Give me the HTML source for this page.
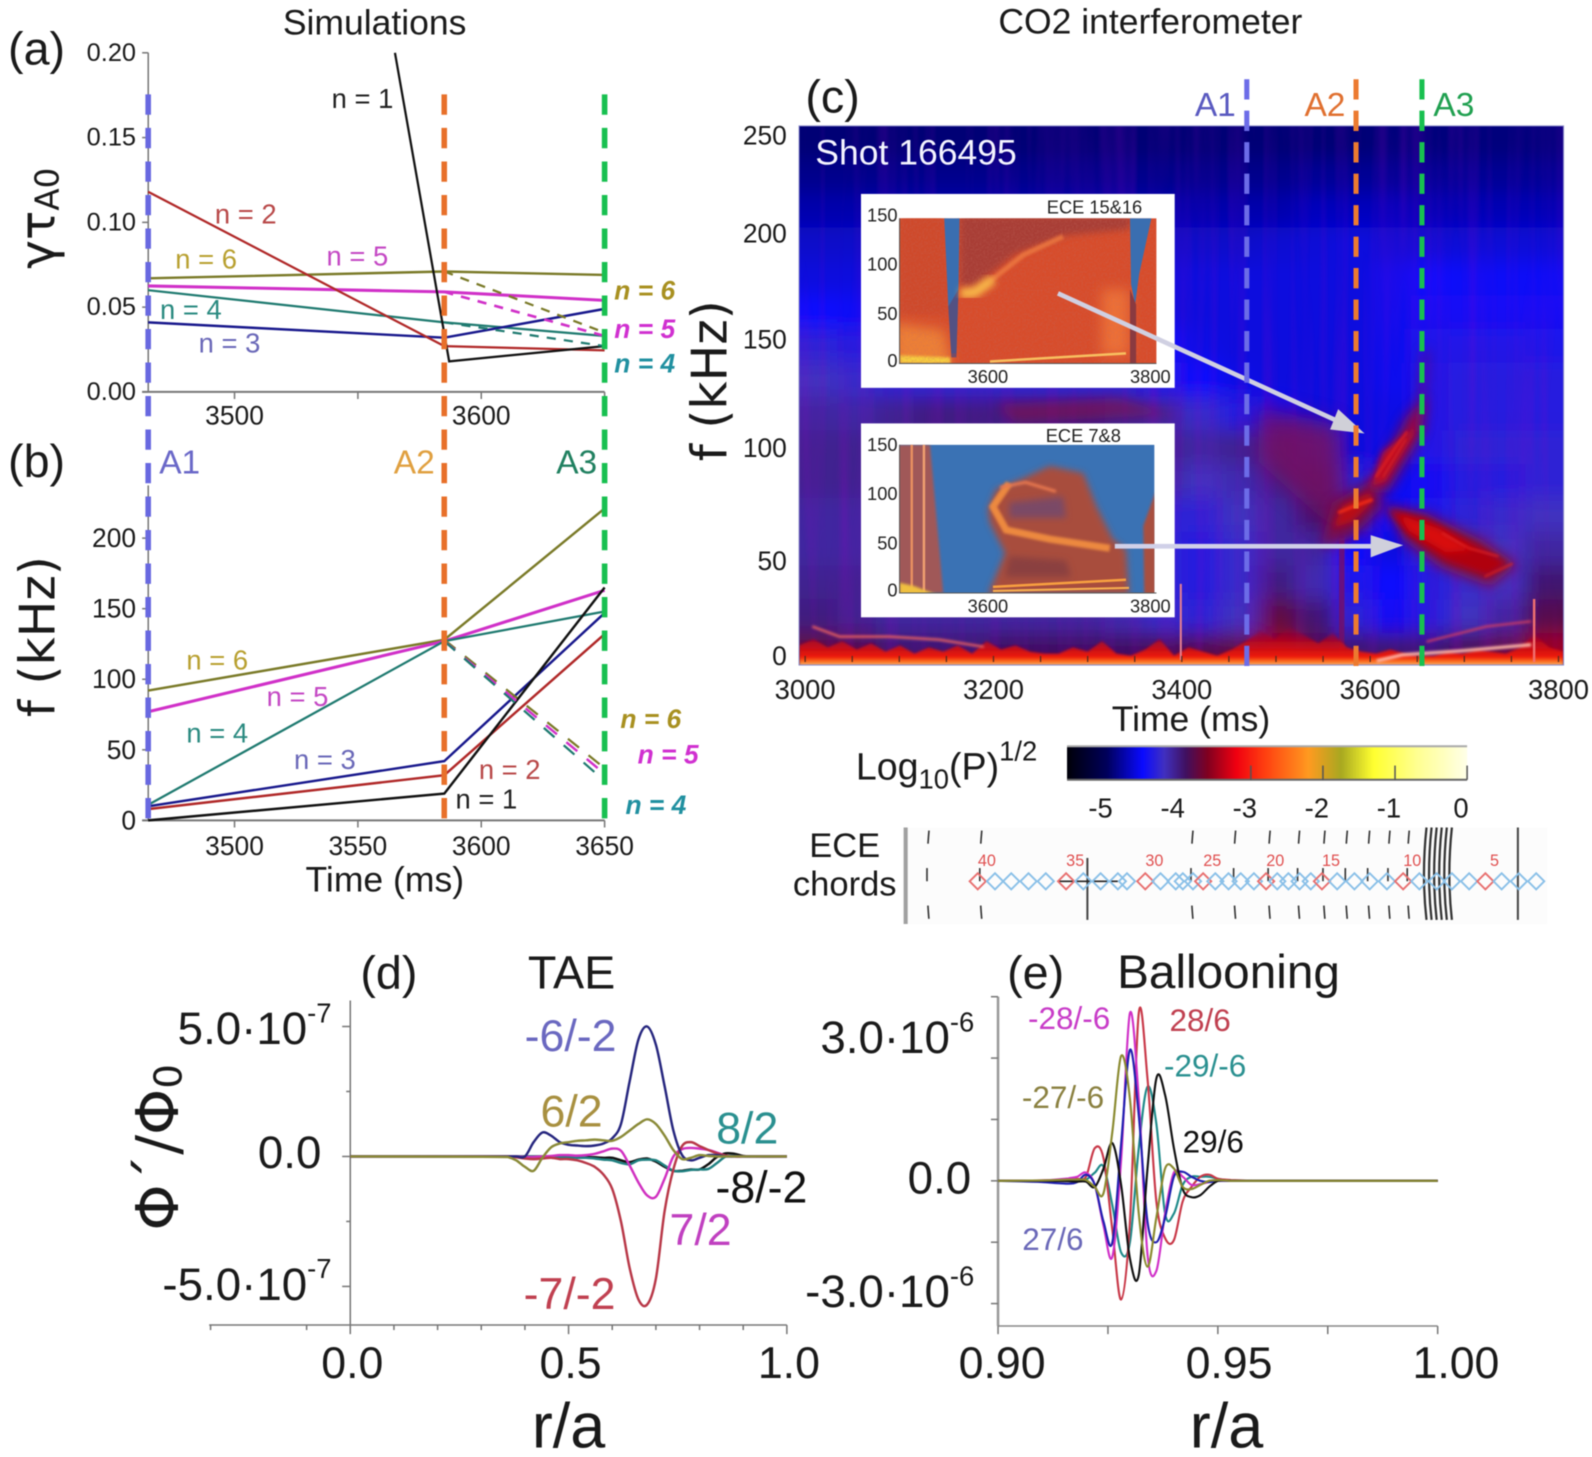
<!DOCTYPE html>
<html lang="en">
<head>
<meta charset="utf-8">
<title>Simulations and CO2 interferometer figure</title>
<style>
html,body{margin:0;padding:0;background:#fff;width:1592px;height:1457px;overflow:hidden}
svg{display:block;filter:blur(.55px)}
text{font-family:"Liberation Sans",sans-serif;dominant-baseline:central;fill:#1a1a1a}
.dj{font-family:"DejaVu Sans","Liberation Sans",sans-serif}
.m{text-anchor:middle}
.e{text-anchor:end}
.bi{font-weight:bold;font-style:italic;font-size:26px;text-anchor:middle}
.nl{font-size:27px;text-anchor:middle}
.pl{font-size:46px;text-anchor:middle}
.cl{font-size:44px;text-anchor:middle}
.el{font-size:31px;text-anchor:middle}
.il{font-size:18px;fill:#222}
</style>
</head>
<body>
<svg id="figure" xmlns="http://www.w3.org/2000/svg" width="1592" height="1457" viewBox="0 0 1568 1435" preserveAspectRatio="none">
<defs>
<filter id="blurMap" x="-10%" y="-10%" width="120%" height="120%"><feGaussianBlur stdDeviation="10"/></filter>
<filter id="blur10" x="-50%" y="-50%" width="200%" height="200%"><feGaussianBlur stdDeviation="11"/></filter>
<filter id="blur6" x="-50%" y="-50%" width="200%" height="200%"><feGaussianBlur stdDeviation="6"/></filter>
<filter id="blur3" x="-30%" y="-30%" width="160%" height="160%"><feGaussianBlur stdDeviation="3.4"/></filter>
<filter id="blur1" x="-30%" y="-30%" width="160%" height="160%"><feGaussianBlur stdDeviation="1.2"/></filter>
<filter id="streakTex" x="0" y="0" width="100%" height="100%"><feTurbulence type="fractalNoise" baseFrequency="0.07 0.003" numOctaves="2" seed="4"/><feColorMatrix type="matrix" values="0 0 0 0 .32  0 0 0 0 0  0 0 0 0 .55  2.4 0 0 0 -1"/></filter>
<filter id="noiseTex" x="0" y="0" width="100%" height="100%"><feTurbulence type="fractalNoise" baseFrequency="0.55" numOctaves="2" seed="9"/><feColorMatrix type="matrix" values="0 0 0 0 .55  0 0 0 0 .15  0 0 0 0 .12  2.6 0 0 0 -1"/></filter>
<clipPath id="clipMap"><rect x="787" y="124" width="753" height="531"/></clipPath>
<clipPath id="clipI1"><rect x="886" y="215" width="253" height="143"/></clipPath>
<clipPath id="clipI2"><rect x="886" y="438" width="251" height="146"/></clipPath>
<linearGradient id="cbarGrad" x1="0" x2="1" y1="0" y2="0"></linearGradient>
<linearGradient id="floorGrad" x1="0" x2="0" y1="0" y2="1"><stop offset="0" stop-color="#900830" stop-opacity=".1"/><stop offset=".4" stop-color="#c00818" stop-opacity=".85"/><stop offset=".75" stop-color="#ee1a0c"/><stop offset=".88" stop-color="#ff7a20"/><stop offset=".95" stop-color="#e8a868"/><stop offset="1" stop-color="#e4d0b8"/></linearGradient>
</defs>

<text class="m" x="369" y="22" font-size="35">Simulations</text>
<text class="m" x="1133" y="21" font-size="35">CO2 interferometer</text>
<text class="pl" x="36" y="48">(a)</text>
<text class="pl" x="36" y="454">(b)</text>
<text class="pl" x="820" y="95">(c)</text>
<text class="pl" x="383" y="958">(d)</text>
<text class="pl" x="1020" y="958">(e)</text>

<g id="panelA"></g>
<g id="panelB"></g>

<text class="dj m" transform="translate(38,215) rotate(-90)" font-size="48">γτ<tspan font-size="32" dy="9">A0</tspan></text>
<text class="dj m" transform="translate(38,627) rotate(-90)" font-size="48">f (kHz)</text>
<text class="m" x="379" y="866" font-size="35">Time (ms)</text>

<text class="nl" x="357" y="97" style="fill:#222">n = 1</text>
<text class="nl" x="242" y="211" style="fill:#b84848">n = 2</text>
<text class="nl" x="203" y="255" style="fill:#b8a030">n = 6</text>
<text class="nl" x="352" y="252" style="fill:#c448c4">n = 5</text>
<text class="nl" x="188" y="305" style="fill:#2a8a80">n = 4</text>
<text class="nl" x="226" y="338" style="fill:#6a68b8">n = 3</text>
<text class="bi" x="635" y="286" style="fill:#a89020">n = 6</text>
<text class="bi" x="635" y="324" style="fill:#d030d0">n = 5</text>
<text class="bi" x="635" y="358" style="fill:#2090a0">n = 4</text>

<text x="177" y="456" class="m" font-size="33" style="fill:#6a68c8">A1</text>
<text x="408" y="456" class="m" font-size="33" style="fill:#e0a040">A2</text>
<text x="568" y="456" class="m" font-size="33" style="fill:#208060">A3</text>

<text class="nl" x="214" y="650" style="fill:#b8a030">n = 6</text>
<text class="nl" x="293" y="686" style="fill:#c448c4">n = 5</text>
<text class="nl" x="214" y="722" style="fill:#2a8a80">n = 4</text>
<text class="nl" x="320" y="748" style="fill:#6a68b8">n = 3</text>
<text class="nl" x="502" y="758" style="fill:#b84848">n = 2</text>
<text class="nl" x="479" y="787" style="fill:#222">n = 1</text>
<text class="bi" x="641" y="708" style="fill:#a89020">n = 6</text>
<text class="bi" x="658" y="743" style="fill:#d030d0">n = 5</text>
<text class="bi" x="646" y="793" style="fill:#2090a0">n = 4</text>

<g id="spectrogram">
  <g clip-path="url(#clipMap)">
    <g id="heatCells" filter="url(#blurMap)"></g>
    <rect x="787" y="124" width="753" height="531" filter="url(#streakTex)" opacity=".2"/>
    <g>
      <path filter="url(#blur6)" d="M980 398 L1100 392 L1160 408 L1000 416 Z" fill="#900840" opacity=".55"/>
      <path filter="url(#blur10)" d="M1240 400 L1319 420 L1325 530 L1290 500 L1240 455 Z" fill="#780c58" opacity=".8"/>
      <path filter="url(#blur6)" d="M1300 540 L1312 495 L1355 470 L1362 500 L1330 530 Z" fill="#80103c" opacity=".85"/>
      <path filter="url(#blur6)" d="M1345 485 L1385 410 L1405 390 L1400 430 L1368 485 Z" fill="#8a1040" opacity=".85"/>
      <path filter="url(#blur3)" d="M1350 480 L1362 445 L1388 425 L1398 400 L1393 428 L1365 474 Z" fill="#c00820"/>
      <path filter="url(#blur6)" d="M1392 425 L1402 345 L1408 345 L1402 425 Z" fill="#701070" opacity=".7"/>
      <path filter="url(#blur3)" d="M1313 520 L1322 498 L1350 484 L1352 494 L1332 514 Z" fill="#b80818"/>
      <path filter="url(#blur6)" d="M1362 496 L1405 505 L1460 532 L1495 556 L1468 578 L1420 560 L1382 532 Z" fill="#880c38" opacity=".9"/>
      <path filter="url(#blur3)" d="M1368 502 L1405 511 L1455 537 L1484 555 L1465 567 L1424 552 L1387 526 Z" fill="#b00410"/>
      <path filter="url(#blur3)" d="M1378 507 L1418 521 L1450 542 L1424 544 L1388 523 Z" fill="#d80a10"/>
      <path filter="url(#blur1)" d="M1355 470 L1375 440 L1386 425" stroke="#e02020" stroke-width="2" fill="none"/>
      <path filter="url(#blur1)" d="M1362 470 L1385 432" stroke="#d82020" stroke-width="1.4" fill="none"/>
      <path filter="url(#blur1)" d="M1318 505 L1335 498 L1352 492" stroke="#f02a18" stroke-width="3" fill="none"/>
      <path filter="url(#blur1)" d="M1420 525 L1447 540 L1476 548" stroke="#e02020" stroke-width="1.8" fill="none"/>
      <path filter="url(#blur1)" d="M1462 568 L1490 555" stroke="#d82020" stroke-width="1.8" fill="none"/>
      <path filter="url(#blur3)" d="M1292 565 L1292 645" stroke="#b01024" stroke-width="14" fill="none"/>
      <path filter="url(#blur3)" d="M1323 530 L1320 645" stroke="#7a1060" stroke-width="12" fill="none" opacity=".8"/>
      <path filter="url(#blur3)" d="M1513 520 L1513 650" stroke="#c81820" stroke-width="6" fill="none"/>
    </g>
    <path id="floorShape" fill="url(#floorGrad)" filter="url(#blur1)"></path>
    <path d="M800 617 L827 627 L876 627 L925 630 L969 637" stroke="#e86060" stroke-width="2.4" fill="none" filter="url(#blur1)"/>
    <path d="M1356 651 L1381 645 L1439 641 L1508 635" stroke="#ffb8a8" stroke-width="3.2" fill="none" filter="url(#blur1)"/>
    <path d="M1405 632 L1464 617 L1508 612" stroke="#d84060" stroke-width="2" fill="none" filter="url(#blur1)"/>
    <path d="M1163 575 L1163 650" stroke="#e88090" stroke-width="2"/>
    <path d="M1511 590 L1511 652" stroke="#f07070" stroke-width="2.4"/>
  </g>
  <text x="803" y="150" font-size="35" style="fill:#f4f4ff">Shot 166495</text>
</g>

<g>
  <rect x="848" y="191" width="309" height="191" fill="#fff"/>
  <g clip-path="url(#clipI1)">
    <rect x="886" y="215" width="253" height="143" fill="#d84c2a"/>
    <path filter="url(#blur3)" d="M945 212 L1115 212 L1112 226 L1050 232 L1000 250 L960 282 L945 282 Z" fill="#a83e34"/>
    <path filter="url(#blur3)" d="M886 205 L930 205 L936 310 L886 310 Z" fill="#cf4a2c"/>
    <path filter="url(#blur6)" d="M880 318 L930 325 L938 362 L880 362 Z" fill="#ee8034"/>
    <path filter="url(#blur1)" d="M886 350 L936 352 L936 358 L886 358 Z" fill="#f8d040"/>
    <path filter="url(#blur6)" d="M1085 285 L1112 285 L1112 350 L1085 350 Z" fill="#ee7036"/>
    <rect x="886" y="215" width="253" height="143" filter="url(#noiseTex)" opacity=".28"/>
    <path d="M930 215 L945 215 L944 285 L942 348 L937 348 L934 302 Z" fill="#3a6eb0"/>
    <path d="M934 302 L944 285 L942 352 L937 352 Z" fill="#5a4a78" opacity=".8"/>
    <path d="M1113 215 L1134 215 L1122 270 L1118 300 L1114 280 Z" fill="#3a6eb0"/>
    <path d="M1113 285 L1119 300 L1119 358 L1113 358 Z" fill="#8a3a40"/>
    <path filter="url(#blur1)" d="M975 277 L1008 251 L1047 233" stroke="#ee7c42" stroke-width="5" fill="none" opacity=".8"/>
    <path filter="url(#blur3)" d="M946 289 L960 288 L978 275" stroke="#f8b848" stroke-width="10" fill="none"/>
    <path d="M975 356 L1109 348" stroke="#f8c060" stroke-width="2.5" fill="none"/>
  </g>
  <path d="M886 215 V358 H1139" stroke="#555" stroke-width="1" fill="none"/>
  <text class="il m" x="1078" y="204">ECE 15&amp;16</text>
  <text class="il e" x="884" y="212">150</text>
  <text class="il e" x="884" y="260">100</text>
  <text class="il e" x="884" y="309">50</text>
  <text class="il e" x="884" y="355">0</text>
  <text class="il m" x="973" y="371">3600</text>
  <text class="il m" x="1133" y="371">3800</text>
</g>

<g>
  <rect x="848" y="417" width="309" height="191" fill="#fff"/>
  <g clip-path="url(#clipI2)">
    <rect x="886" y="438" width="251" height="146" fill="#3a72b4"/>
    <path filter="url(#blur1)" d="M882 438 L916 438 L929 584 L882 584 Z" fill="#a05858"/>
    <path d="M898 438 L898 584" stroke="#e89060" stroke-width="2.4"/>
    <path d="M910 438 L910 584" stroke="#f0a070" stroke-width="2.4"/>
    <path filter="url(#blur1)" d="M886 586 L886 574 L900 577 L924 586 Z" fill="#f0c040"/>
    <path filter="url(#blur3)" d="M973 586 L990 545 L975 515 L973 502 L981 482 L1008 471 L1034 459 L1067 466 L1080 499 L1096 531 L1109 541 L1112 586 Z" fill="#a84e3c"/>
    <path filter="url(#blur3)" d="M994 495 L1047 489 L1050 510 L994 510 Z" fill="#7a4a66"/>
    <path filter="url(#blur3)" d="M994 548 L1050 552 L1055 568 L990 568 Z" fill="#8a4040"/>
    <path filter="url(#blur1)" d="M994 476 L978 499 L991 522 L1034 531 L1093 540" stroke="#f49040" stroke-width="7" fill="none" opacity=".9"/>
    <path filter="url(#blur1)" d="M985 480 L1010 475 L1040 484" stroke="#e87850" stroke-width="3" fill="none"/>
    <path filter="url(#blur1)" d="M1126 518 L1127 586 L1139 586 L1139 482 Z" fill="#a85040"/>
    <path d="M978 578 L1109 571" stroke="#f8a040" stroke-width="2.5" fill="none"/>
    <path d="M978 582 L1112 579" stroke="#f8b050" stroke-width="2" fill="none"/>
  </g>
  <path d="M886 438 V584 H1139" stroke="#555" stroke-width="1" fill="none"/>
  <text class="il m" x="1067" y="429">ECE 7&amp;8</text>
  <text class="il e" x="884" y="438">150</text>
  <text class="il e" x="884" y="486">100</text>
  <text class="il e" x="884" y="535">50</text>
  <text class="il e" x="884" y="581">0</text>
  <text class="il m" x="973" y="597">3600</text>
  <text class="il m" x="1133" y="597">3800</text>
</g>

<g>
  <path d="M1042 289 L1316 414" stroke="#d0d0e2" stroke-width="4.6" fill="none"/>
  <path d="M1344 427 L1310 423 L1318 403 Z" fill="#d0d0d8"/>
  <path d="M1098 538 L1352 538" stroke="#d0d0e8" stroke-width="4.6" fill="none"/>
  <path d="M1382 537 L1350 527 L1350 549 Z" fill="#d0d0dc"/>
</g>

<g id="panelCOverlay"></g>
<text x="1197" y="104" class="m" font-size="33" style="fill:#5a5ac0">A1</text>
<text x="1305" y="104" class="m" font-size="33" style="fill:#e07030">A2</text>
<text x="1432" y="104" class="m" font-size="33" style="fill:#20a050">A3</text>
<text class="dj m" transform="translate(700,375) rotate(-90)" font-size="48">f (kHz)</text>
<text class="m" x="1173" y="708" font-size="35">Time (ms)</text>

<text x="843" y="755" font-size="37">Log<tspan font-size="27" dy="12">10</tspan><tspan dy="-12">(P)</tspan><tspan font-size="27" dy="-16">1/2</tspan></text>
<g id="colorbar"></g>

<g id="eceStrip"></g>
<text class="m" x="832" y="833" font-size="34">ECE</text>
<text class="m" x="832" y="871" font-size="34">chords</text>

<g id="panelD"></g>
<text class="pl" x="563" y="958">TAE</text>
<text x="175" y="1013" font-size="45">5.0·10<tspan font-size="27" dy="-16">-7</tspan></text>
<text x="254" y="1135" font-size="45">0.0</text>
<text x="160" y="1265" font-size="45">-5.0·10<tspan font-size="27" dy="-16">-7</tspan></text>
<text class="dj m" transform="translate(155,1130) rotate(-90)" font-size="58">Φ´/Φ<tspan font-size="38" dy="11">0</tspan></text>
<text class="m" x="560" y="1405" font-size="62">r/a</text>
<text class="cl" x="562" y="1021" style="fill:#6a68c0">-6/-2</text>
<text class="cl" x="563" y="1095" style="fill:#a89040">6/2</text>
<text class="cl" x="736" y="1112" style="fill:#2a9090">8/2</text>
<text class="cl" x="750" y="1170" style="fill:#111">-8/-2</text>
<text class="cl" x="690" y="1212" style="fill:#c040c0">7/2</text>
<text class="cl" x="561" y="1275" style="fill:#c04050">-7/-2</text>

<g id="panelE"></g>
<text class="m" x="1210" y="958" font-size="47">Ballooning</text>
<text x="808" y="1022" font-size="45">3.0·10<tspan font-size="27" dy="-16">-6</tspan></text>
<text x="894" y="1160" font-size="45">0.0</text>
<text x="793" y="1272" font-size="45">-3.0·10<tspan font-size="27" dy="-16">-6</tspan></text>
<text class="m" x="1208" y="1405" font-size="62">r/a</text>
<text class="el" x="1053" y="1003" style="fill:#c83cc8">-28/-6</text>
<text class="el" x="1182" y="1005" style="fill:#c04050">28/6</text>
<text class="el" x="1187" y="1050" style="fill:#2a9090">-29/-6</text>
<text class="el" x="1047" y="1081" style="fill:#8a8040">-27/-6</text>
<text class="el" x="1195" y="1125" style="fill:#111">29/6</text>
<text class="el" x="1037" y="1221" style="fill:#6a68b8">27/6</text>

<script>
/* ---------- panel (a) data: growth rate ---------- */
const markerTimes = [3465, 3585, 3650];
const n1GrowthTimes = [3565, 3587, 3650];
const growthN1 = [0.20, 0.018, 0.027];
const growthN2 = [0.118, 0.027, 0.0245];
const growthN3 = [0.041, 0.032, 0.049];
const growthN4 = [0.060, 0.041, 0.033];
const growthN5 = [0.0625, 0.059, 0.054];
const growthN6 = [0.067, 0.071, 0.069];
const dashTimes = [3585, 3650];
const growthDashN4 = [0.041, 0.027];
const growthDashN5 = [0.059, 0.033];
const growthDashN6 = [0.071, 0.035];
const growthYTicks = [0, 0.05, 0.10, 0.15, 0.20];
const growthYLabels = ['0.00', '0.05', '0.10', '0.15', '0.20'];
const growthXTicks = [3500, 3600];

/* ---------- panel (b) data: frequency ---------- */
const freqN1 = [0, 19, 165];
const freqN2 = [8, 32, 132];
const freqN3 = [10, 42, 147];
const freqN4 = [11, 127, 148];
const freqN5 = [77, 127, 163];
const freqN6 = [92, 128, 221];
const freqDashN4 = [127, 28];
const freqDashN5 = [127, 33];
const freqDashN6 = [128, 37];
const freqYTicks = [0, 50, 100, 150, 200];
const freqXTicks = [3500, 3550, 3600, 3650];

/* ---------- panel (c) data: spectrogram ---------- */
const specTimeTicks = [3000, 3200, 3400, 3600, 3800];
const specFreqTicks = [0, 50, 100, 150, 200, 250];
const specMarkerTimes = [3469, 3585, 3655];
const specMinorTimes = [3000,3050,3100,3150,3200,3250,3300,3350,3400,3450,3500,3550,3600,3650,3700,3750,3800];
const heatRow0 = [-4.92,-4.92,-4.92,-4.92,-4.92,-4.92,-4.92,-4.92,-4.92,-4.92,-4.92,-4.92,-4.92,-4.92,-4.92,-4.9,-4.9,-4.9,-4.9,-4.9];
const heatRow1 = [-4.85,-4.85,-4.85,-4.85,-4.85,-4.85,-4.85,-4.85,-4.85,-4.85,-4.85,-4.85,-4.85,-4.82,-4.82,-4.82,-4.82,-4.82,-4.82,-4.82];
const heatRow2 = [-4.75,-4.75,-4.75,-4.75,-4.75,-4.75,-4.75,-4.75,-4.75,-4.75,-4.75,-4.75,-4.75,-4.7,-4.7,-4.7,-4.72,-4.72,-4.72,-4.72];
const heatRow3 = [-4.66,-4.66,-4.66,-4.66,-4.66,-4.66,-4.66,-4.66,-4.66,-4.66,-4.66,-4.66,-4.64,-4.62,-4.6,-4.62,-4.62,-4.62,-4.62,-4.62];
const heatRow4 = [-4.6,-4.6,-4.6,-4.6,-4.6,-4.6,-4.6,-4.6,-4.6,-4.6,-4.6,-4.6,-4.6,-4.6,-4.6,-4.55,-4.5,-4.52,-4.52,-4.52];
const heatRow5 = [-4.5,-4.52,-4.55,-4.58,-4.58,-4.58,-4.58,-4.58,-4.58,-4.6,-4.6,-4.6,-4.6,-4.6,-4.6,-4.55,-4.45,-4.45,-4.45,-4.45];
const heatRow6 = [-4.3,-4.35,-4.42,-4.42,-4.42,-4.42,-4.42,-4.42,-4.42,-4.5,-4.58,-4.6,-4.6,-4.6,-4.6,-4.55,-4.4,-4.38,-4.38,-4.4];
const heatRow7 = [-4.2,-4.25,-4.3,-4.3,-4.3,-4.3,-4.3,-4.3,-4.3,-4.4,-4.5,-4.58,-4.6,-4.6,-4.6,-4.55,-4.38,-4.35,-4.35,-4.35];
const heatRow8 = [-4.1,-4.12,-4.05,-4.0,-4.0,-4.0,-4.0,-4.0,-4.05,-4.1,-4.25,-4.35,-4.45,-4.6,-4.6,-4.58,-4.38,-4.35,-4.35,-4.35];
const heatRow9 = [-4.05,-4.05,-4.05,-4.05,-4.05,-4.05,-4.05,-4.05,-4.05,-4.05,-4.1,-4.05,-4.1,-4.25,-4.6,-4.58,-4.38,-4.3,-4.3,-4.3];
const heatRow10 = [-4.05,-4.05,-4.05,-4.05,-4.05,-4.05,-4.05,-4.05,-4.05,-4.1,-4.2,-4.15,-4.05,-4.05,-4.3,-4.55,-4.45,-4.35,-4.35,-4.3];
const heatRow11 = [-4.1,-4.1,-4.1,-4.1,-4.1,-4.1,-4.1,-4.1,-4.15,-4.3,-4.3,-4.2,-4.1,-3.95,-3.95,-4.5,-4.4,-4.3,-4.25,-4.2];
const heatRow12 = [-4.1,-4.1,-4.1,-4.1,-4.1,-4.1,-4.1,-4.1,-4.15,-4.3,-4.35,-4.25,-4.1,-4.1,-4.5,-4.6,-4.3,-4.15,-4.2,-4.1];
const heatRow13 = [-4.05,-4.05,-4.05,-4.05,-4.05,-4.05,-4.05,-4.05,-4.15,-4.3,-4.35,-4.25,-4.0,-4.15,-4.4,-4.5,-4.35,-4.25,-4.2,-3.95];
const heatRow14 = [-4.0,-4.05,-4.1,-4.1,-4.1,-4.1,-4.1,-4.1,-4.15,-4.25,-4.3,-4.2,-3.75,-3.95,-4.3,-4.45,-4.35,-4.2,-4.1,-3.8];
const heatRow15 = [-3.75,-3.8,-3.95,-3.95,-3.95,-3.9,-3.9,-3.9,-3.9,-3.85,-3.8,-3.75,-3.5,-3.8,-3.95,-3.95,-3.95,-3.85,-3.75,-3.5];
const heatRows = [heatRow0,heatRow1,heatRow2,heatRow3,heatRow4,heatRow5,heatRow6,heatRow7,heatRow8,heatRow9,heatRow10,heatRow11,heatRow12,heatRow13,heatRow14,heatRow15];
const floorKhz = [8,11,7,10,6,9,5,8,4,7,5,8,4,10,6,8,5,4,4,7,5,10,4,3,6,11,3,7,5,3,6,10,15,11,17,13,9,14,7,5,4,6,4,3,3,5,4,6,5,4,7,13,7,5];

/* ---------- colorbar data ---------- */
const colorLevels = [-5.55,-5,-4.5,-4.2,-3.9,-3.6,-3.2,-2.8,-2.2,-1.75,-1.3,-0.7,0];
const colorValues = ['#000008','#00005a','#0a0aff','#4030c0','#401060','#800020','#f00010','#ff4010','#ff9a20','#a8a820','#ffff30','#ffff90','#ffffe8'];
const colorbarTicks = [-5, -4, -3, -2, -1, 0];

/* ---------- ECE chord data ---------- */
const chordRadii = [120.6,124,127.2,130.6,134,138,141.4,144.8,148.2,150,153.6,156.6,159.6,161,163,165,167.4,170,172.4,175,177.4,179.6,181.8,184,186.2,188.4,191.4,194.8,197.8,201.2,204.4,207.6,211,214,217.4,220.6,223.8,227.2,230.6];
const chordFirstId = 40;
const labelledChords = [40, 35, 30, 25, 20, 15, 10, 5];
const fluxDashedRadii = [111, 121.4, 163, 171.4, 178.2, 184, 189, 193.4, 197.8, 201.8, 205.6];
const fluxSolidRadii = [142.2, 227];
const fluxDenseRadii = [209, 210, 211, 212, 213, 214];

/* ---------- panel (d) data: TAE, units of 1e-7 ---------- */
const tauR = [0,0.36,0.38,0.40,0.42,0.44,0.46,0.48,0.50,0.52,0.54,0.56,0.58,0.60,0.62,0.64,0.66,0.68,0.70,0.72,0.74,0.76,0.78,0.80,0.82,0.84,0.86,0.88,0.90,0.92,1.0];
const taeM6 = [0,0,0,0,0.55,0.92,0.8,0.55,0.45,0.42,0.4,0.42,0.5,0.7,1.25,2.9,4.5,5.0,4.3,2.7,1.0,0.05,-0.15,-0.05,0.05,0.05,0,0,0,0,0];
const taeP6 = [0,-0.02,-0.15,-0.4,-0.55,-0.05,0.35,0.5,0.55,0.6,0.62,0.65,0.62,0.6,0.75,1.0,1.25,1.43,1.25,0.8,0.25,-0.1,-0.05,0.05,0.02,0,0,0,0,0,0];
const taeM7 = [0,0,-0.03,-0.08,-0.1,-0.08,-0.05,-0.1,-0.1,-0.15,-0.25,-0.4,-0.7,-1.25,-2.5,-4.3,-5.5,-5.7,-4.7,-2.1,-0.5,0.4,0.55,0.4,0.25,0.12,0.03,0,0,0,0];
const taeP7 = [0,0,0,-0.02,-0.02,0,0.02,0.05,0.05,0.03,0.05,0.1,0.2,0.3,0.22,-0.35,-1.0,-1.5,-1.55,-0.85,0,0.28,0.33,0.3,0.25,0.15,0.03,0,0,0,0];
const taeP8 = [0,0,0,0,0,0,0,-0.02,-0.03,-0.05,-0.05,-0.08,-0.12,-0.15,-0.25,-0.3,-0.15,-0.12,-0.15,-0.35,-0.55,-0.57,-0.52,-0.5,-0.48,-0.25,0,0.02,0,0,0];
const taeM8 = [0,0,0,0,0,0,0,0,-0.02,-0.02,-0.03,-0.03,-0.05,-0.05,-0.15,-0.22,-0.12,-0.08,-0.2,-0.4,-0.55,-0.55,-0.5,-0.5,-0.3,-0.02,0.12,0.1,0.02,0,0];
const taeXTicks = [0, 0.5, 1.0];
const taeXLabels = ['0.0', '0.5', '1.0'];

/* ---------- panel (e) data: ballooning, units of 1e-6 ---------- */
const ballR = [0.90,0.91,0.916,0.918,0.92,0.922,0.924,0.926,0.928,0.93,0.932,0.934,0.936,0.938,0.94,0.942,0.944,0.946,0.948,0.95,0.953,0.96,1.0];
const ballM28 = [0,0.01,0.06,0.1,0.2,-0.1,-1.1,-1.85,0.5,4.1,2.0,-1.8,-2.2,-0.8,0.2,0.1,-0.1,-0.08,-0.03,0,0,0,0];
const ballP28 = [0,0.01,0.03,0.05,0.1,0.8,0.55,-1.2,-2.9,-1.0,4.1,2.5,-0.5,-1.4,-1.45,-0.5,-0.15,0.1,0.15,0.05,0.02,0,0];
const ballP27 = [0,-0.03,-0.07,-0.03,0.15,-0.1,-1.0,-1.5,0.9,3.2,1.6,-1.0,-1.5,-0.9,0.1,0.22,0.1,0,-0.03,0,0,0,0];
const ballM27 = [0,0.01,0.03,0.03,0.02,-0.15,-0.3,1.2,3.05,2.0,-0.8,-2.1,-0.9,0.3,0.3,-0.15,-0.2,-0.1,0,0.02,0,0,0];
const ballM29 = [0,0,0.01,0.02,0.03,0.2,0.35,-0.6,-1.75,-1.5,0.8,2.3,1.4,-0.8,-0.8,-0.1,0.1,0.1,0.1,0.05,0,0,0];
const ballP29 = [0,0,-0.01,-0.02,-0.02,-0.15,0.3,0.92,-0.1,-1.9,-2.3,0.3,2.5,2.1,0.8,-0.2,-0.4,-0.35,-0.15,0,0,0,0];
const ballXTicks = [0.90, 0.95, 1.00];
const ballXLabels = ['0.90', '0.95', '1.00'];

/* ---------- axis functions ---------- */
const xTime = t => 231 + (t - 3500) * 2.43;
const yGrowth = v => 386 - v * 1670;
const yFreq = v => 808 - v * 1.39;
const xSpec = t => 793 + (t - 3000) * 0.9275;
const ySpec = f => 652 - f * 2.05;
const xColor = v => 1445 + v * 71;
const xChord = r => 960 + (r - 120) * 5;
const xTae = r => 345 + r * 430;
const yTae = v => 1139 - v * 25.6;
const xBall = r => 983 + (r - 0.9) * 4330;
const yBall = v => 1163 - v * 40.3;

/* ---------- drawing helpers ---------- */
const NS = 'http://www.w3.org/2000/svg';
function mk(parent, tag, name, props, content) {
  const el = document.createElementNS(NS, tag);
  
  
  for (const k in props) el.setAttribute(k, props[k]);
  if (content !== undefined) el.textContent = content;
  parent.appendChild(el);
  return el;
}
function poly(xs, ys, fx, fy) {
  return xs.map((x, i) => (i ? 'L' : 'M') + fx(x).toFixed(1) + ' ' + fy(ys[i]).toFixed(1)).join(' ');
}
function smooth(xs, ys, fx, fy) {
  const p = xs.map((x, i) => [fx(x), fy(ys[i])]);
  let d = 'M' + p[0][0].toFixed(1) + ' ' + p[0][1].toFixed(1);
  for (let i = 0; i < p.length - 1; i++) {
    const a = p[Math.max(i - 1, 0)], b = p[i], c = p[i + 1], e = p[Math.min(i + 2, p.length - 1)];
    const k = 1 / 6;
    const lim = (c[0] - b[0]) / 3;
    const c1x = b[0] + Math.min((c[0] - a[0]) * k, lim);
    const c2x = c[0] - Math.min((e[0] - b[0]) * k, lim);
    d += ' C' + c1x.toFixed(1) + ' ' + (b[1] + (c[1] - a[1]) * k).toFixed(1) + ' ' + c2x.toFixed(1) + ' ' + (c[1] - (e[1] - b[1]) * k).toFixed(1) + ' ' + c[0].toFixed(1) + ' ' + c[1].toFixed(1);
  }
  return d;
}
function colorFor(v) {
  let i = 0;
  while (i < colorLevels.length - 2 && v > colorLevels[i + 1]) i++;
  const t = Math.max(0, Math.min(1, (v - colorLevels[i]) / (colorLevels[i + 1] - colorLevels[i])));
  const h = s => [1, 3, 5].map(j => parseInt(s.substr(j, 2), 16));
  const a = h(colorValues[i]), b = h(colorValues[i + 1]);
  return 'rgb(' + a.map((c, j) => Math.round(c + (b[j] - c) * t)).join(',') + ')';
}

/* ---------- panel (a) ---------- */
const pa = document.getElementById('panelA');
mk(pa, 'path', 'growth-y-axis', {d: 'M146 ' + yGrowth(0.2) + ' V' + yGrowth(0), stroke: '#777', 'stroke-width': 1.5, fill: 'none'});
mk(pa, 'path', 'growth-x-axis', {d: 'M140 ' + yGrowth(0) + ' H' + xTime(3650), stroke: '#777', 'stroke-width': 2, fill: 'none'});
growthYTicks.forEach((v, i) => {
  mk(pa, 'path', 'growth-y-tick', {d: 'M140 ' + yGrowth(v) + ' H146', stroke: '#777', 'stroke-width': 1.5});
  mk(pa, 'text', 'growth-y-tick-label', {x: 134, y: yGrowth(v), class: 'e', 'font-size': 25}, growthYLabels[i]);
});
[3500, 3550, 3600, 3650].forEach(t => {
  mk(pa, 'path', 'growth-x-tick', {d: 'M' + xTime(t) + ' ' + yGrowth(0) + ' v7', stroke: '#777', 'stroke-width': 1.5});
});
growthXTicks.forEach(t => {
  mk(pa, 'text', 'growth-x-tick-label', {x: xTime(t), y: 409, class: 'm', 'font-size': 26}, String(t));
});
const growthSeries = [
  ['growth-n6', growthN6, '#7a7a28', 2.4],
  ['growth-n5', growthN5, '#d030c8', 3],
  ['growth-n4', growthN4, '#1f7a70', 2.2],
  ['growth-n3', growthN3, '#18188c', 2.4],
  ['growth-n2', growthN2, '#b02828', 2.2]
];
growthSeries.forEach(s => mk(pa, 'path', s[0], {d: poly(markerTimes, s[1], xTime, yGrowth), stroke: s[2], 'stroke-width': s[3], fill: 'none'}));
mk(pa, 'path', 'growth-n1', {d: poly(n1GrowthTimes, growthN1, xTime, yGrowth), stroke: '#111', 'stroke-width': 2.2, fill: 'none'});
mk(pa, 'path', 'growth-dashed-n6', {d: poly(dashTimes, growthDashN6, xTime, yGrowth), stroke: '#7a7a28', 'stroke-width': 2.2, 'stroke-dasharray': '9 8', fill: 'none'});
mk(pa, 'path', 'growth-dashed-n5', {d: poly(dashTimes, growthDashN5, xTime, yGrowth), stroke: '#d030c8', 'stroke-width': 2.6, 'stroke-dasharray': '9 8', fill: 'none'});
mk(pa, 'path', 'growth-dashed-n4', {d: poly(dashTimes, growthDashN4, xTime, yGrowth), stroke: '#1f7a70', 'stroke-width': 2.2, 'stroke-dasharray': '9 8', fill: 'none'});

/* ---------- panel (b) ---------- */
const pb = document.getElementById('panelB');
mk(pb, 'path', 'frequency-y-axis', {d: 'M146 478 V' + yFreq(0), stroke: '#777', 'stroke-width': 1.5, fill: 'none'});
mk(pb, 'path', 'frequency-x-axis', {d: 'M140 ' + yFreq(0) + ' H' + xTime(3650), stroke: '#777', 'stroke-width': 2, fill: 'none'});
freqYTicks.forEach(v => {
  mk(pb, 'path', 'frequency-y-tick', {d: 'M140 ' + yFreq(v) + ' H146', stroke: '#777', 'stroke-width': 1.5});
  mk(pb, 'text', 'frequency-y-tick-label', {x: 134, y: yFreq(v), class: 'e', 'font-size': 26}, String(v));
});
freqXTicks.forEach(t => {
  mk(pb, 'path', 'frequency-x-tick', {d: 'M' + xTime(t) + ' ' + yFreq(0) + ' v7', stroke: '#777', 'stroke-width': 1.5});
  mk(pb, 'text', 'frequency-x-tick-label', {x: xTime(t), y: 833, class: 'm', 'font-size': 26}, String(t));
});
const freqSeries = [
  ['frequency-n6', freqN6, '#7a7a28', 2.4],
  ['frequency-n5', freqN5, '#d030c8', 3],
  ['frequency-n4', freqN4, '#1f7a70', 2.2],
  ['frequency-n2', freqN2, '#b02828', 2.4],
  ['frequency-n3', freqN3, '#18188c', 2.4],
  ['frequency-n1', freqN1, '#111', 2.4]
];
freqSeries.forEach(s => mk(pb, 'path', s[0], {d: poly(markerTimes, s[1], xTime, yFreq), stroke: s[2], 'stroke-width': s[3], fill: 'none'}));
mk(pb, 'path', 'frequency-dashed-n6', {d: poly(dashTimes, freqDashN6, xTime, yFreq), stroke: '#7a7a28', 'stroke-width': 2.2, 'stroke-dasharray': '14 12', fill: 'none'});
mk(pb, 'path', 'frequency-dashed-n5', {d: poly(dashTimes, freqDashN5, xTime, yFreq), stroke: '#d030c8', 'stroke-width': 2.4, 'stroke-dasharray': '14 12', fill: 'none'});
mk(pb, 'path', 'frequency-dashed-n4', {d: poly(dashTimes, freqDashN4, xTime, yFreq), stroke: '#1f7a70', 'stroke-width': 2.2, 'stroke-dasharray': '14 12', fill: 'none'});

/* time markers spanning (a) and (b) */
const markerColors = ['#6868e0', '#e8702a', '#18c050'];
const markerNames = ['marker-a1', 'marker-a2', 'marker-a3'];
markerTimes.forEach((t, i) => {
  mk(pb, 'path', markerNames[i], {d: 'M' + xTime(t) + ' 93 V808', stroke: markerColors[i], 'stroke-width': 5.5, 'stroke-dasharray': '20 13', fill: 'none'});
});

/* ---------- panel (c) heatmap ---------- */
const hc = document.getElementById('heatCells');
const cols = heatRows[0].length, rows = heatRows.length;
const cw = 753 / cols, ch = 533 / rows, pad = 45;
heatRows.forEach((row, r) => row.forEach((v, c) => {
  const x0 = 787 + c * cw - (c === 0 ? pad : 0);
  const y0 = 124 + r * ch - (r === 0 ? pad : 0);
  const w = cw + 0.6 + (c === 0 || c === cols - 1 ? pad : 0);
  const h = ch + 0.6 + (r === 0 || r === rows - 1 ? pad : 0);
  mk(hc, 'rect', 'heatmap-cell', {x: x0.toFixed(1), y: y0.toFixed(1), width: w.toFixed(1), height: h.toFixed(1), fill: colorFor(v)});
}));
const floorStep = 753 / (floorKhz.length - 1);
let floorPath = 'M787 657';
floorKhz.forEach((f, i) => { floorPath += ' L' + (787 + i * floorStep).toFixed(1) + ' ' + ySpec(f).toFixed(1); });
document.getElementById('floorShape').setAttribute('d', floorPath + ' L1540 657 Z');

const pc = document.getElementById('panelCOverlay');
mk(pc, 'rect', 'spectrogram-frame', {x: 787, y: 124, width: 753, height: 531, fill: 'none', stroke: '#8a8ac8', 'stroke-width': 1});
specMinorTimes.forEach(t => {
  mk(pc, 'path', 'spectrogram-x-tick', {d: 'M' + xSpec(t) + ' 646 v6', stroke: '#5a2a20', 'stroke-width': 1.3});
});
const specTickNudge = {0: -6, 50: 3, 100: -6, 150: -10, 200: -12, 250: -6};
specFreqTicks.forEach(f => {
  mk(pc, 'text', 'spectrogram-y-tick-label', {x: 775, y: ySpec(f) + specTickNudge[f], class: 'e', 'font-size': 26}, String(f));
});
specTimeTicks.forEach(t => {
  mk(pc, 'text', 'spectrogram-x-tick-label', {x: xSpec(t), y: 679, class: 'm', 'font-size': 27}, String(t));
});
const specColors = ['#6c6ce8', '#ec7a30', '#18c050'];
const specNames = ['spectrogram-marker-a1', 'spectrogram-marker-a2', 'spectrogram-marker-a3'];
specMarkerTimes.forEach((t, i) => {
  mk(pc, 'path', specNames[i], {d: 'M' + xSpec(t) + ' 78 V657', stroke: specColors[i], 'stroke-width': 5, 'stroke-dasharray': '20 11', fill: 'none'});
});

/* ---------- colorbar ---------- */
const cb = document.getElementById('colorbar');
const grad = document.getElementById('cbarGrad');
const cMin = colorLevels[0], cMax = colorLevels[colorLevels.length - 1];
colorLevels.forEach((v, i) => {
  const st = document.createElementNS(NS, 'stop');
  st.setAttribute('offset', ((v - cMin) / (cMax - cMin)).toFixed(3));
  st.setAttribute('stop-color', colorValues[i]);
  grad.appendChild(st);
});
mk(cb, 'rect', 'colorbar-gradient', {x: xColor(cMin), y: 735, width: xColor(cMax) - xColor(cMin), height: 33, fill: 'url(#cbarGrad)'});
mk(cb, 'path', 'colorbar-top-edge', {d: 'M' + xColor(cMin) + ' 735 H' + xColor(cMax), stroke: '#aaa', 'stroke-width': 2});
mk(cb, 'path', 'colorbar-bottom-edge', {d: 'M' + xColor(cMin) + ' 768 H' + xColor(cMax), stroke: '#666', 'stroke-width': 2});
colorbarTicks.forEach(v => {
  if (v >= -3) mk(cb, 'path', 'colorbar-tick', {d: 'M' + xColor(v) + ' 768 v-14', stroke: '#555', 'stroke-width': 1.5});
  mk(cb, 'text', 'colorbar-tick-label', {x: xColor(v) - 6, y: 796, class: 'm', 'font-size': 27}, String(v));
});

/* ---------- ECE chords ---------- */
const ec = document.getElementById('eceStrip');
mk(ec, 'rect', 'ece-strip-background', {x: 889, y: 815, width: 635, height: 95, fill: '#fcfcfc'});
mk(ec, 'path', 'ece-left-boundary', {d: 'M892 815 V910', stroke: '#a0a0a0', 'stroke-width': 4});
fluxDashedRadii.forEach(r => {
  mk(ec, 'path', 'flux-surface-dashed', {d: 'M' + xChord(r) + ' 818 Q' + (xChord(r) - 4) + ' 862 ' + xChord(r) + ' 906', stroke: '#333', 'stroke-width': 1.6, 'stroke-dasharray': '13 24', fill: 'none'});
});
fluxSolidRadii.forEach((r, i) => {
  mk(ec, 'path', 'flux-surface-solid', {d: 'M' + xChord(r) + (i === 0 ? ' 845' : ' 815') + ' V906', stroke: '#444', 'stroke-width': 2, fill: 'none'});
});
fluxDenseRadii.forEach(r => {
  mk(ec, 'path', 'separatrix-line', {d: 'M' + xChord(r) + ' 815 Q' + (xChord(r) - 5) + ' 862 ' + xChord(r) + ' 906', stroke: '#333', 'stroke-width': 2.2, fill: 'none'});
});
mk(ec, 'path', 'ece-midplane-line', {d: 'M1042 868 H1101', stroke: '#222', 'stroke-width': 1.6});
chordRadii.forEach((r, i) => {
  const id = chordFirstId - i;
  const isRed = labelledChords.includes(id);
  const x = xChord(r);
  mk(ec, 'path', 'ece-chord-marker', {d: 'M' + (x - 8) + ' 868 L' + x + ' 860 L' + (x + 8) + ' 868 L' + x + ' 876 Z', fill: 'none', stroke: isRed ? '#e87070' : '#8ac0e8', 'stroke-width': 1.9});
  if (isRed) mk(ec, 'text', 'ece-chord-number', {x: x + 9, y: 848, class: 'm', 'font-size': 16, style: 'fill:#e05050'}, String(id));
});

/* ---------- panel (d) ---------- */
const pd = document.getElementById('panelD');
mk(pd, 'path', 'tae-y-axis', {d: 'M345 ' + yTae(6) + ' V1305', stroke: '#777', 'stroke-width': 1.5, fill: 'none'});
mk(pd, 'path', 'tae-x-axis', {d: 'M206 1305 H' + xTae(1), stroke: '#777', 'stroke-width': 1.5, fill: 'none'});
[-5, -2.5, 0, 2.5, 5].forEach(v => {
  mk(pd, 'path', 'tae-y-tick', {d: 'M' + (v % 5 === 0 ? 337 : 341) + ' ' + yTae(v) + ' H345', stroke: '#777', 'stroke-width': 1.5});
});
[-0.32, -0.1, 0, 0.1, 0.2, 0.3, 0.4, 0.5, 0.6, 0.7, 0.8, 0.9, 1].forEach(r => {
  mk(pd, 'path', 'tae-x-tick', {d: 'M' + xTae(r) + ' 1305 v' + (r === 0 || r === 0.5 || r === 1 ? 9 : 5), stroke: '#777', 'stroke-width': 1.5});
});
taeXTicks.forEach((r, i) => {
  mk(pd, 'text', 'tae-x-tick-label', {x: xTae(r) + 2, y: 1343, class: 'm', 'font-size': 44}, taeXLabels[i]);
});
const taeSeries = [
  ['tae-m-8', taeM8, '#111'],
  ['tae-m8', taeP8, '#1f8080'],
  ['tae-m7', taeP7, '#d030c0'],
  ['tae-m-7', taeM7, '#b83848'],
  ['tae-m-6', taeM6, '#26267e'],
  ['tae-m6', taeP6, '#8a8a38']
];
taeSeries.forEach(s => mk(pd, 'path', s[0], {d: smooth(tauR, s[1], xTae, yTae), stroke: s[2], 'stroke-width': 2.4, fill: 'none'}));

/* ---------- panel (e) ---------- */
const pe = document.getElementById('panelE');
mk(pe, 'path', 'ballooning-y-axis', {d: 'M983 ' + yBall(4.5) + ' V1306', stroke: '#999', 'stroke-width': 2.5, fill: 'none'});
mk(pe, 'path', 'ballooning-x-axis', {d: 'M983 1306 H' + xBall(1), stroke: '#888', 'stroke-width': 1.5, fill: 'none'});
[-3, -1.5, 0, 1.5, 3, 4.5].forEach(v => {
  mk(pe, 'path', 'ballooning-y-tick', {d: 'M976 ' + yBall(v) + ' H983', stroke: '#777', 'stroke-width': 1.5});
});
[0.90, 0.925, 0.95, 0.975, 1.00].forEach(r => {
  mk(pe, 'path', 'ballooning-x-tick', {d: 'M' + xBall(r) + ' 1306 v8', stroke: '#777', 'stroke-width': 1.5});
});
ballXTicks.forEach((r, i) => {
  mk(pe, 'text', 'ballooning-x-tick-label', {x: xBall(r) + 7 * i + 4, y: 1343, class: 'm', 'font-size': 44}, ballXLabels[i]);
});
const ballSeries = [
  ['ballooning-m-29', ballM29, '#1f8a8a'],
  ['ballooning-m28', ballP28, '#c83848'],
  ['ballooning-m-28', ballM28, '#d030c8'],
  ['ballooning-m27', ballP27, '#2020b0'],
  ['ballooning-m29', ballP29, '#111'],
  ['ballooning-m-27', ballM27, '#8a8a30']
];
ballSeries.forEach(s => mk(pe, 'path', s[0], {d: smooth(ballR, s[1], xBall, yBall), stroke: s[2], 'stroke-width': 2.1, fill: 'none'}));
</script>
</svg>
</body>
</html>
